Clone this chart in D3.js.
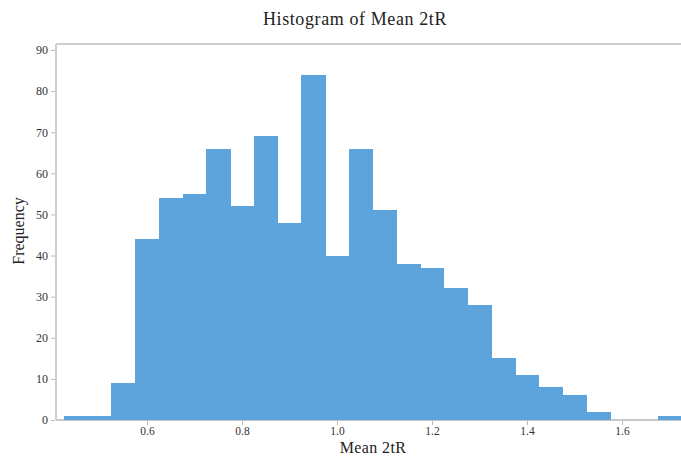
<!DOCTYPE html>
<html>
<head>
<meta charset="utf-8">
<script src="https://cdn.jsdelivr.net/npm/d3@7"></script>
<style>
  body { margin: 0; background: #fff; }
  svg { display: block; }
</style>
</head>
<body>
<svg id="chart" width="681" height="456"></svg>
<script>
const binStart = [0.425, 0.475, 0.525, 0.575, 0.625, 0.675, 0.725, 0.775, 0.825, 0.875, 0.925, 0.975, 1.025, 1.075, 1.125, 1.175, 1.225, 1.275, 1.325, 1.375, 1.425, 1.475, 1.525, 1.575, 1.625, 1.675];
const counts   = [1, 1, 9, 44, 54, 55, 66, 52, 69, 48, 84, 40, 66, 51, 38, 37, 32, 28, 15, 11, 8, 6, 2, 0, 0, 1];
const binWidth = 0.05;
const xTicks = [0.6, 0.8, 1.0, 1.2, 1.4, 1.6];
const yTicks = [0, 10, 20, 30, 40, 50, 60, 70, 80, 90];

const svg = d3.select("#chart");
const pL = 56, pR = 681, pT = 44, pB = 420;

const x = d3.scaleLinear().domain([0.4084, 1.7242]).range([pL, pR]);
const y = d3.scaleLinear().domain([0, 90 * (pB - pT) / 370]).range([pB, pT]);

const serif = "'Liberation Serif', 'DejaVu Serif', serif";

// frame lines
svg.append("line").attr("x1", pL).attr("x2", pR).attr("y1", pT).attr("y2", pT)
  .attr("stroke", "#cfcfcf").attr("stroke-width", 2);
svg.append("line").attr("x1", pL).attr("x2", pL).attr("y1", pT).attr("y2", pB)
  .attr("stroke", "#cfcfcf").attr("stroke-width", 2);
svg.append("line").attr("x1", pL).attr("x2", pR).attr("y1", pB).attr("y2", pB)
  .attr("stroke", "#c8c8c8").attr("stroke-width", 2);

// bars
svg.append("g").selectAll("rect").data(binStart.map((s, i) => ({ s, c: counts[i] })).filter(d => d.c > 0))
  .join("rect")
  .attr("x", d => x(d.s))
  .attr("width", d => x(d.s + binWidth) - x(d.s) + 0.5)
  .attr("y", d => y(d.c))
  .attr("height", d => y(0) - y(d.c))
  .attr("fill", "#5da3dc")
  .attr("shape-rendering", "crispEdges");

// y axis
const yAxis = svg.append("g").attr("transform", `translate(${pL - 1},0)`)
  .call(d3.axisLeft(y).tickValues(yTicks).tickSize(4).tickPadding(3).tickFormat(d3.format("d")));
yAxis.select(".domain").remove();
yAxis.selectAll("line").attr("stroke", "#bbb");
yAxis.selectAll("text").attr("font-family", serif).attr("font-size", 12).attr("fill", "#333");

// x axis
const xAxis = svg.append("g").attr("transform", `translate(0,${pB + 1})`)
  .call(d3.axisBottom(x).tickValues(xTicks).tickSize(4).tickPadding(2).tickFormat(d3.format(".1f")));
xAxis.select(".domain").remove();
xAxis.selectAll("line").attr("stroke", "#bbb");
xAxis.selectAll("text").attr("font-family", serif).attr("font-size", 11.5).attr("fill", "#333");

// title
svg.append("text").attr("x", 355).attr("y", 25).attr("text-anchor", "middle")
  .attr("font-family", serif).attr("font-size", 18).attr("fill", "#222")
  .attr("letter-spacing", 0.6)
  .text("Histogram of Mean 2tR");

// axis titles
svg.append("text").attr("x", 373).attr("y", 453).attr("text-anchor", "middle")
  .attr("font-family", serif).attr("font-size", 16).attr("fill", "#222")
  .attr("letter-spacing", 0.4)
  .text("Mean 2tR");
svg.append("text").attr("transform", "translate(24,231) rotate(-90)").attr("text-anchor", "middle")
  .attr("font-family", serif).attr("font-size", 16).attr("fill", "#222")
  .text("Frequency");
</script>
</body>
</html>
